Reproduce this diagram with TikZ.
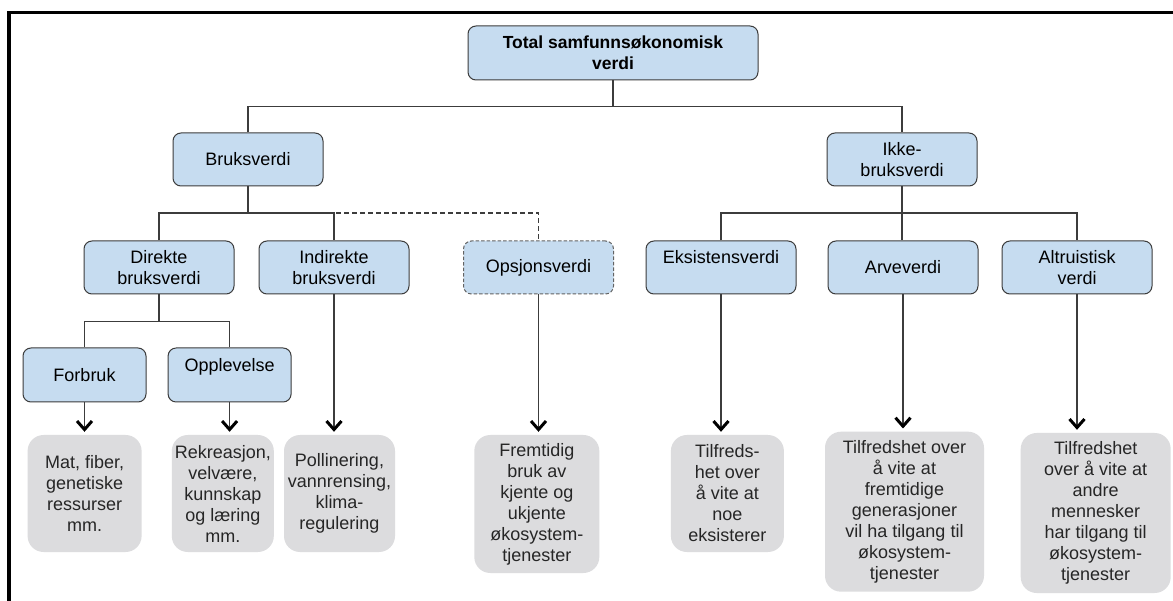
\documentclass[tikz,border=0pt]{standalone}
\usepackage{fontspec}
\setmainfont{Liberation Sans}
\usetikzlibrary{arrows.meta,calc}
\definecolor{boxblue}{RGB}{198,220,240}
\definecolor{boxgrey}{RGB}{220,220,222}
\definecolor{edgecol}{RGB}{60,60,60}
\begin{document}
\begin{tikzpicture}[x=1pt,y=-1pt,
  txt/.style={font=\fontsize{18}{21}\selectfont},
  bluebox/.style={draw=edgecol, line width=1pt, fill=boxblue, rounded corners=8pt,
    align=center, inner sep=0pt, txt, minimum width=150pt, minimum height=53pt},
  greybox/.style={fill=boxgrey, rounded corners=16pt, align=center, inner sep=0pt, txt,
    text=black!85},
  conn/.style={draw=edgecol, line width=1.1pt},
  arr/.style={conn, -{Straight Barb[length=8.5pt,width=15pt,line width=3pt,color=black]}, shorten >=3pt},
]
\useasboundingbox (0,0) rectangle (1173,601);
\fill[white] (0,0) rectangle (1173,601);
% frame
\draw[line width=3.5pt, black, line join=miter] (9,601) -- (9,12.5) -- (1173,12.5);

% level 0
\node[bluebox, minimum width=290pt, minimum height=54pt, font=\fontsize{17.5}{21}\selectfont\bfseries]
  (top) at (613,53) {Total samfunnsøkonomisk\\verdi};
% level 1
\node[bluebox] (brk)  at (248,159.5) {Bruksverdi};
\node[bluebox] (ikke) at (902,159.5) {Ikke-\\bruksverdi};
% level 2
\node[bluebox] (dir) at (159,267.5) {Direkte\\bruksverdi};
\node[bluebox] (ind) at (334,267.5) {Indirekte\\bruksverdi};
\node[bluebox, draw=edgecol!80, dash pattern=on 3.5pt off 2pt] (ops) at (538.5,267.5) {Opsjonsverdi};
\node[bluebox] (eks) at (721,267.5) {Eksistensverdi\\\mbox{}};
\node[bluebox] (arv) at (903,267.5) {Arveverdi};
\node[bluebox] (alt) at (1077,267.5) {Altruistisk\\verdi};
% level 3
\node[bluebox, minimum width=123pt, minimum height=54pt] (forb) at (84.5,375) {Forbruk};
\node[bluebox, minimum width=123pt, minimum height=54pt] (opp) at (229.6,375) {Opplevelse\\\mbox{}};

% bottom boxes
\node[greybox, minimum width=114pt, minimum height=117pt] (mat) at (84.6,493.5)
  {Mat, fiber,\\genetiske\\ressurser\\mm.};
\node[greybox, minimum width=102pt, minimum height=117pt] (rek) at (222.8,493.5)
  {Rekreasjon,\\velvære,\\kunnskap\\og læring\\mm.};
\node[greybox, minimum width=111pt, minimum height=117pt] (pol) at (339.5,493.5)
  {Pollinering,\\vannrensing,\\klima-\\regulering};
\node[greybox, minimum width=125pt, minimum height=138pt] (frem) at (536.8,504)
  {Fremtidig\\bruk av\\kjente og\\ukjente\\økosystem-\\tjenester};
\node[greybox, minimum width=113pt, minimum height=117pt] (tilf) at (727.4,493.5)
  {Tilfreds-\\het over\\å vite at\\noe\\eksisterer};
\node[greybox, minimum width=159pt, minimum height=160pt] (arvb) at (904.5,511.7)
  {Tilfredshet over\\å vite at\\fremtidige\\generasjoner\\vil ha tilgang til\\økosystem-\\tjenester};
\node[greybox, minimum width=150pt, minimum height=160pt] (altb) at (1095.7,513)
  {Tilfredshet\\over å vite at\\andre\\mennesker\\har tilgang til\\økosystem-\\tjenester};

% junctions
\coordinate (j1) at (613,106.5);
\coordinate (j2) at (248,213);
\coordinate (j3) at (902,213);
\coordinate (j4) at (159,321.5);

% tree connectors
\draw[conn] (top.south) -- (j1);
\draw[conn] (brk.north) |- (j1) -| (ikke.north);
\draw[conn] (brk.south) -- (j2);
\draw[conn] (dir.north) |- (j2) -| (ind.north);
\draw[conn, dash pattern=on 5pt off 3pt] (j2) -| (ops.north);
\draw[conn] (ikke.south) -- (j3);
\draw[conn] (eks.north) |- (j3) -| (alt.north);
\draw[conn] (j3) -- (j3 |- arv.north);
\draw[conn] (dir.south) -- (j4);
\draw[conn] (forb.north) |- (j4) -| (opp.north);

% arrows
\draw[arr] (forb.south) -- (forb.south |- mat.north);
\draw[arr] (opp.south) -- (opp.south |- rek.north);
\draw[arr] (ind.south) -- (ind.south |- pol.north);
\draw[arr] (ops.south) -- (ops.south |- frem.north);
\draw[arr] (eks.south) -- (eks.south |- tilf.north);
\draw[arr] (arv.south) -- (arv.south |- arvb.north);
\draw[arr] (alt.south) -- (alt.south |- altb.north);
\end{tikzpicture}
\end{document}
